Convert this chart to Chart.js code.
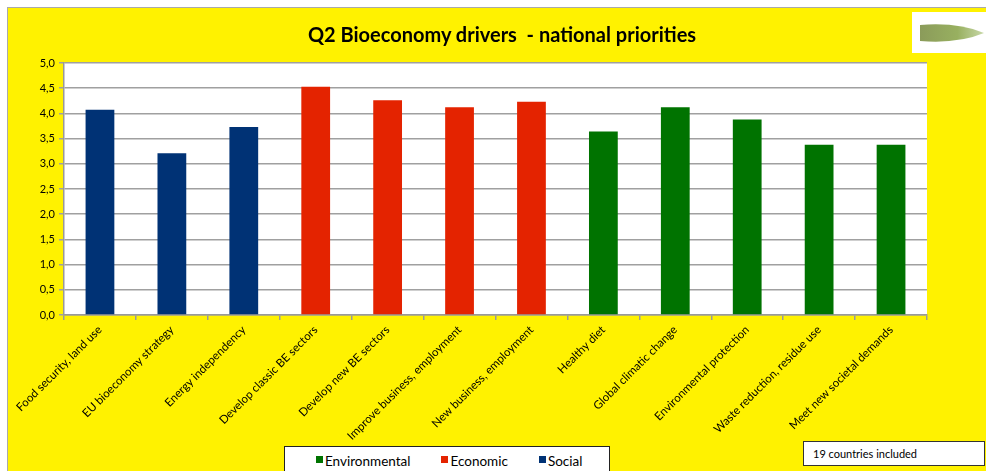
<!DOCTYPE html>
<html>
<head>
<meta charset="utf-8">
<script src="https://cdn.jsdelivr.net/npm/chart.js@4/dist/chart.umd.min.js"></script>
<style>
    body { margin: 0; background: #fff; font-family: 'Lato', sans-serif; }
    #frame {
        position: absolute; left: 7px; top: 7px; width: 979px; height: 464px;
        background: #FFF200; border-left: 1px solid #aaa; border-top: 1px solid #aaa;
    }
    #chartBox { position: absolute; left: 0; top: 0; width: 978px; height: 463px; }
    #title {
        position: absolute; left: 302px; top: 22px; width: 400px; text-align: center;
        font-size: 20px; font-weight: bold; line-height: 24px; color: #000; white-space: pre;
    }
    #legendBox {
        position: absolute; left: 284px; top: 446px; width: 326px; height: 30px;
        background: #fff; border: 1px solid #222; box-sizing: border-box;
        display: flex; gap: 31px; padding-left: 31px; font-size: 13.5px; color: #000;
    }
    .legend-item { position: relative; padding-left: 9px; line-height: 13px; margin-top: 8px; }
    .legend-swatch { position: absolute; left: 0; top: 1px; width: 7px; height: 7px; }
    #note {
        position: absolute; left: 803px; top: 441px; width: 182px; height: 25px;
        background: #fff; border: 1px solid #333; box-sizing: border-box;
        font-size: 11px; padding: 5px 0 0 9px; color: #000;
    }
</style>
</head>
<body>
<div id="frame">
    <div id="chartBox"><canvas id="driversChart" width="978" height="463"></canvas></div>
</div>
<div id="title">Q2 Bioeconomy drivers  - national priorities</div>
<div id="legendBox"></div>
<div id="note">19 countries included</div>

<script>
// Chart data
const categories = [
    'Food security, land use', 'EU bioeconomy strategy', 'Energy independency',
    'Develop classic BE sectors', 'Develop new BE sectors', 'Improve business, employment',
    'New business, employment', 'Healthy diet', 'Global climatic change',
    'Environmental protection', 'Waste reduction, residue use', 'Meet new societal demands'
];
const scores = [4.07, 3.21, 3.73, 4.53, 4.26, 4.12, 4.23, 3.64, 4.12, 3.88, 3.38, 3.38];
const driverGroups = [
    'Social', 'Social', 'Social',
    'Economic', 'Economic', 'Economic', 'Economic',
    'Environmental', 'Environmental', 'Environmental', 'Environmental', 'Environmental'
];
const legendOrder = ['Environmental', 'Economic', 'Social'];
const groupColors = { Environmental: '#007300', Economic: '#E42300', Social: '#003275' };

Chart.defaults.font.family = 'Lato';
Chart.defaults.color = '#000';

// white plot area
const plotBgPlugin = {
    id: 'plotBg',
    beforeDraw(chart) {
        const a = chart.chartArea;
        chart.ctx.save();
        chart.ctx.fillStyle = '#fff';
        chart.ctx.fillRect(a.left, a.top, a.right - a.left, a.bottom - a.top);
        chart.ctx.restore();
    }
};

// small logo in the top right corner
const logoPlugin = {
    id: 'logo',
    afterDraw(chart) {
        const c = chart.ctx;
        c.save();
        c.fillStyle = '#fff';
        c.fillRect(904, 4, 74, 41);
        const g = c.createLinearGradient(910, 0, 976, 0);
        g.addColorStop(0, '#8a9a5a');
        g.addColorStop(0.6, '#98b060');
        g.addColorStop(1, '#c8d8a8');
        c.fillStyle = g;
        c.beginPath();
        c.moveTo(912, 17);
        c.quadraticCurveTo(950, 14, 976, 25);
        c.quadraticCurveTo(950, 36, 912, 33);
        c.closePath();
        c.fill();
        c.restore();
    }
};

function loadDriversChart() {
    const ctx = document.getElementById('driversChart');

    new Chart(ctx, {
        type: 'bar',
        data: {
            labels: categories,
            datasets: [{
                data: scores,
                backgroundColor: driverGroups.map(g => groupColors[g]),
                borderWidth: 0,
                categoryPercentage: 0.4,
                barPercentage: 1
            }]
        },
        options: {
            responsive: false,
            animation: false,
            layout: { padding: { top: 55, right: 59, bottom: 0, left: 0 } },
            plugins: {
                legend: { display: false },
                tooltip: { enabled: false }
            },
            scales: {
                x: {
                    afterFit: s => { s.height = 156; },
                    grid: { drawOnChartArea: false, drawTicks: true, tickLength: 5, color: '#999', lineWidth: 1.5 },
                    border: { color: '#999', width: 1.5 },
                    ticks: {
                        autoSkip: false, maxRotation: 45, minRotation: 45,
                        padding: 3, font: { size: 11.5 }
                    }
                },
                y: {
                    min: 0, max: 5,
                    afterFit: s => { s.width = 56; },
                    grid: { color: '#a0a0a0', lineWidth: 1.5, tickLength: 5 },
                    border: { color: '#999', width: 1.5 },
                    ticks: {
                        stepSize: 0.5, padding: 4, font: { size: 11 },
                        callback: v => v.toFixed(1).replace('.', ',')
                    }
                }
            }
        },
        plugins: [plotBgPlugin, logoPlugin]
    });
}

// HTML legend built from the groups
function loadLegend() {
    const box = document.getElementById('legendBox');
    legendOrder.forEach(name => {
        const item = document.createElement('div');
        item.className = 'legend-item';
        item.innerHTML = `<span class="legend-swatch" style="background:${groupColors[name]}"></span>${name}`;
        box.appendChild(item);
    });
}

loadDriversChart();
loadLegend();
</script>
</body>
</html>
